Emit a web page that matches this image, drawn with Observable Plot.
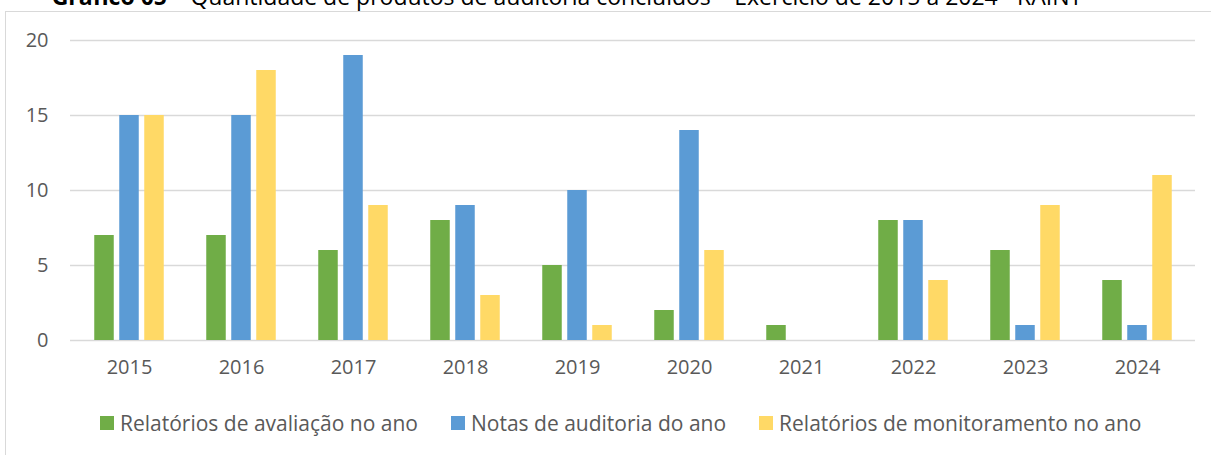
<!DOCTYPE html>
<html>
<head>
<meta charset="utf-8">
<script src="https://cdn.jsdelivr.net/npm/d3@7"></script>
<script src="https://cdn.jsdelivr.net/npm/@observablehq/plot@0.6"></script>
<style>
  html, body { margin: 0; padding: 0; background: white; width: 1211px; height: 455px; overflow: hidden; }
  #title { position: absolute; top: -15px; left: 0; width: 1134px; text-align: center; font-family: "Open Sans", sans-serif; font-size: 23px; line-height: 23px; color: #000; white-space: nowrap; }
  #frame { position: absolute; left: 5px; top: 11px; width: 1300px; height: 600px; border: 1.5px solid #d9d9d9; box-sizing: border-box; }
  #chart { position: absolute; left: 0; top: 0; }
  #legend { position: absolute; left: 100px; top: 409px; display: flex; gap: 33px; font-family: "Open Sans", sans-serif; font-size: 21px; color: #595959; white-space: nowrap; }
  .item { display: flex; align-items: center; }
  .sw { width: 14px; height: 14px; margin-right: 6px; }
</style>
</head>
<body>
<div id="title"><b>Gráfico 05</b> – Quantidade de produtos de auditoria concluídos – Exercício de 2015 a 2024 - RAINT</div>
<div id="frame"></div>
<div id="chart"></div>
<div id="legend"></div>
<script>
const years = ["2015","2016","2017","2018","2019","2020","2021","2022","2023","2024"];
const avaliacao = [7, 7, 6, 8, 5, 2, 1, 8, 6, 4];
const notas = [15, 15, 19, 9, 10, 14, 0, 8, 1, 1];
const monitoramento = [15, 18, 9, 3, 1, 6, 0, 4, 9, 11];
const seriesNames = ["Relatórios de avaliação no ano", "Notas de auditoria do ano", "Relatórios de monitoramento no ano"];
const seriesColors = ["#70AD47", "#5B9BD5", "#FFD966"];
const yTicks = [0, 5, 10, 15, 20];

const seriesValues = [avaliacao, notas, monitoramento];
const offsets = [-25, 0, 25];
const barWidth = 20;
const width = 1211, height = 390, mL = 70, mR = 16;
const step = (width - mL - mR) / years.length;
const inset = (step - barWidth) / 2;

const barMarks = seriesValues.map((vals, i) =>
  Plot.barY(
    years.map((y, j) => ({year: y, value: vals[j]})).filter(d => d.value > 0),
    {x: "year", y: "value", fill: seriesColors[i], dx: offsets[i], insetLeft: inset, insetRight: inset}
  )
);

const chart = Plot.plot({
  width, height,
  marginLeft: mL, marginRight: mR, marginTop: 40, marginBottom: 50,
  style: {fontFamily: "Open Sans, sans-serif", fontSize: "20px", color: "#595959", background: "transparent"},
  x: {domain: years, padding: 0, label: null},
  y: {domain: [0, 20], label: null},
  marks: [
    Plot.ruleY(yTicks, {stroke: "#d9d9d9", strokeWidth: 1.5}),
    ...barMarks,
    Plot.axisY({ticks: yTicks, tickSize: 0, tickPadding: 22, label: null}),
    Plot.axisX({tickSize: 0, tickPadding: 19, label: null})
  ]
});
document.getElementById("chart").appendChild(chart);

const legend = document.getElementById("legend");
seriesNames.forEach((name, i) => {
  const item = document.createElement("div");
  item.className = "item";
  const sw = document.createElement("div");
  sw.className = "sw";
  sw.style.background = seriesColors[i];
  const tx = document.createElement("span");
  tx.textContent = name;
  item.appendChild(sw);
  item.appendChild(tx);
  legend.appendChild(item);
});
</script>
</body>
</html>
